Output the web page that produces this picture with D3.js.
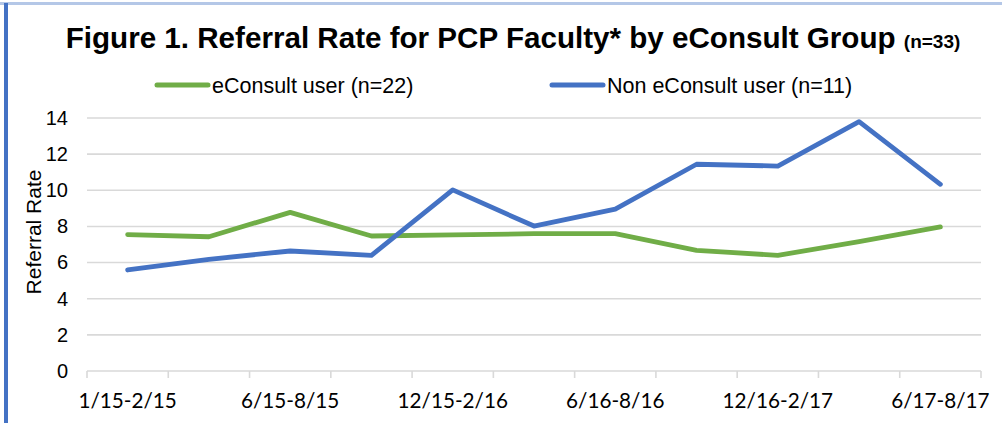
<!DOCTYPE html>
<html>
<head>
<meta charset="utf-8">
<script src="https://cdn.jsdelivr.net/npm/d3@7"></script>
<style>
  body { margin: 0; background: #fff; }
  svg { display: block; font-family: "Liberation Sans", Arial, sans-serif; }
</style>
</head>
<body>
<svg id="chart" width="1002" height="423"></svg>
<script>
"use strict"
// Referral rate per period, two eConsult groups

var periods = ["1/15-2/15", "3/15-5/15", "6/15-8/15", "9/15-11/15", "12/15-2/16", "3/16-5/16",
               "6/16-8/16", "9/16-11/16", "12/16-2/17", "3/17-5/17", "6/17-8/17"];
var userRate    = [7.55, 7.43, 8.78, 7.47, 7.53, 7.6, 7.6, 6.68, 6.4, 7.16, 7.97];   // eConsult user
var nonUserRate = [5.59, 6.18, 6.64, 6.4, 10.02, 8.02, 8.96, 11.44, 11.34, 13.8, 10.33]; // Non eConsult user
var yTicks = [0, 2, 4, 6, 8, 10, 12, 14];
var seriesNames = ["eConsult user (n=22)", "Non eConsult user (n=11)"];
var seriesColors = ["#70ad47", "#4472c4"];

var svg = d3.select("svg#chart"),
    margin = {top: 118, right: 21, bottom: 52, left: 87},
    width = +svg.attr("width") - margin.left - margin.right,
    height = +svg.attr("height") - margin.top - margin.bottom;

// border of the figure box
svg.append("line").attr("x1", 0).attr("x2", 1002).attr("y1", 3.5).attr("y2", 3.5)
  .attr("stroke", "#b4c7e7").attr("stroke-width", 3);
svg.append("line").attr("x1", 6).attr("x2", 6).attr("y1", 3).attr("y2", 423)
  .attr("stroke", "#4472c4").attr("stroke-width", 4);

// title
var title = svg.append("text")
    .attr("x", 513).attr("y", 48)
    .attr("text-anchor", "middle")
    .attr("font-weight", "bold")
    .attr("font-size", 29.6)
    .attr("fill", "#000");
title.append("tspan").text("Figure 1. Referral Rate for PCP Faculty* by eConsult Group ");
title.append("tspan").attr("font-size", 19).text("(n=33)");

var x = d3.scaleBand().domain(periods).range([0, width]);
var y = d3.scaleLinear().domain([0, 14]).range([height, 0]);

var g = svg.append("g").attr("transform", "translate(" + margin.left + "," + margin.top + ")");

// gridlines
g.append("g").selectAll("line")
  .data(yTicks.filter(function(d){ return d > 0; }))
  .enter().append("line")
    .attr("x1", 0).attr("x2", width)
    .attr("y1", function(d){ return y(d); }).attr("y2", function(d){ return y(d); })
    .attr("stroke", "#d9d9d9").attr("stroke-width", 1.6);

// y axis labels
var yAxis = g.append("g")
    .call(d3.axisLeft(y).tickValues(yTicks).tickSize(0).tickPadding(19));
yAxis.select(".domain").remove();
yAxis.selectAll("text").attr("font-size", 20).attr("fill", "#000")
  .attr("font-family", "'Liberation Sans', Arial, sans-serif");

// x axis: baseline with ticks at band edges
var xAxis = g.append("g").attr("transform", "translate(0," + height + ")");
xAxis.append("line").attr("x1", 0).attr("x2", width).attr("stroke", "#d9d9d9").attr("stroke-width", 1.6);
xAxis.selectAll("line.tick")
  .data(periods.concat(["end"]))
  .enter().append("line")
    .attr("class", "tick")
    .attr("x1", function(d, i){ return i * x.step(); })
    .attr("x2", function(d, i){ return i * x.step(); })
    .attr("y1", 0).attr("y2", 7)
    .attr("stroke", "#d9d9d9").attr("stroke-width", 1.6);
xAxis.selectAll("text")
  .data(periods.filter(function(d, i){ return i % 2 === 0; }))
  .enter().append("text")
    .attr("x", function(d){ return x(d) + x.bandwidth() / 2; })
    .attr("y", 37)
    .attr("text-anchor", "middle")
    .attr("font-family", "Lato, 'Open Sans', sans-serif")
    .attr("font-size", 20.7)
    .attr("fill", "#000")
    .text(function(d){ return d; });

// y axis title
svg.append("text")
    .attr("transform", "translate(41,232) rotate(-90)")
    .attr("text-anchor", "middle")
    .attr("font-size", 21)
    .attr("fill", "#000")
    .text("Referral Rate");

// lines
var line = d3.line()
    .x(function(d, i){ return x(periods[i]) + x.bandwidth() / 2; })
    .y(function(d){ return y(d); });

[userRate, nonUserRate].forEach(function(s, k){
  g.append("path")
    .datum(s)
    .attr("fill", "none")
    .attr("stroke", seriesColors[k])
    .attr("stroke-width", 4.8)
    .attr("stroke-linejoin", "round")
    .attr("stroke-linecap", "round")
    .attr("d", line);
});

// legend
var legendX = [155, 550];
var legend = svg.append("g").selectAll("g")
  .data(seriesNames)
  .enter().append("g")
    .attr("transform", function(d, i){ return "translate(" + legendX[i] + ",85)"; });
legend.append("line")
    .attr("x1", 2).attr("x2", 53)
    .attr("stroke", function(d, i){ return seriesColors[i]; })
    .attr("stroke-width", 5)
    .attr("stroke-linecap", "round");
legend.append("text")
    .attr("x", 57).attr("y", 8)
    .attr("font-size", 21.5)
    .attr("fill", "#000")
    .text(function(d){ return d; });
</script>
</body>
</html>
